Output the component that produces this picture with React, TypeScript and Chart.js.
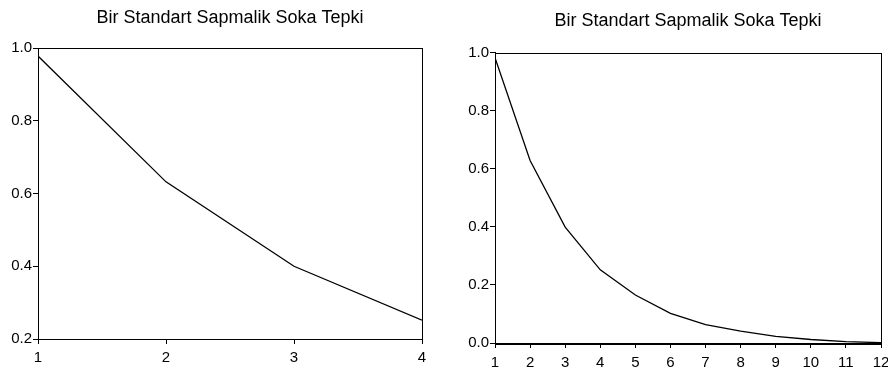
import React, { useEffect, useRef } from "react";
import { Chart, registerables } from "chart.js";

Chart.register(...registerables);

const TITLE = "Bir Standart Sapmalik Soka Tepki";

const leftPeriods = [1, 2, 3, 4];
const leftResponse = [0.978, 0.632, 0.4, 0.252];
const leftYTicks = [0.2, 0.4, 0.6, 0.8, 1.0];

const rightPeriods = [1, 2, 3, 4, 5, 6, 7, 8, 9, 10, 11, 12];
const rightResponse = [0.982, 0.628, 0.399, 0.252, 0.165, 0.102, 0.063, 0.041, 0.023, 0.012, 0.005, 0.001];
const rightYTicks = [0.0, 0.2, 0.4, 0.6, 0.8, 1.0];

const FONT = "'Liberation Sans', Arial, Helvetica, sans-serif";

const framePlugin = {
  id: "frame",
  afterDraw(chart: any) {
    const { ctx, chartArea } = chart;
    const { left, top, right, bottom } = chartArea;
    ctx.save();
    ctx.strokeStyle = "#000";
    ctx.lineWidth = 1;
    ctx.strokeRect(Math.round(left) + 0.5, Math.round(top) + 0.5, Math.round(right - left), Math.round(bottom - top));
    ctx.restore();
  },
};

type Geo = {
  yWidth: number;
  xHeight: number;
  padRight: number;
  titleTop: number;
  titleBottom: number;
  xPad: number;
};

function makeConfig(periods: number[], values: number[], yMin: number, yMax: number, yTicks: number[], geo: Geo): any {
  return {
    type: "line",
    data: {
      datasets: [
        {
          data: periods.map((p, i) => ({ x: p, y: values[i] })),
          borderColor: "#000",
          borderWidth: 1.3,
          pointRadius: 0,
          tension: 0,
          fill: false,
        },
      ],
    },
    options: {
      responsive: false,
      animation: false,
      layout: { padding: { top: 0, right: geo.padRight, bottom: 0, left: 0 } },
      plugins: {
        legend: { display: false },
        tooltip: { enabled: false },
        title: {
          display: true,
          text: TITLE,
          fullSize: false,
          color: "#000",
          font: { family: FONT, size: 18, weight: "normal", lineHeight: 1.2 },
          padding: { top: geo.titleTop, bottom: geo.titleBottom },
        },
      },
      scales: {
        x: {
          type: "linear",
          min: periods[0],
          max: periods[periods.length - 1],
          afterBuildTicks: (s: any) => {
            s.ticks = periods.map((v) => ({ value: v }));
          },
          afterFit: (s: any) => {
            s.height = geo.xHeight;
            s.paddingLeft = 0;
            s.paddingRight = 0;
          },
          grid: { display: true, drawOnChartArea: false, drawTicks: true, tickLength: 5, color: "#000" },
          border: { display: true, color: "#000", width: 1 },
          ticks: {
            color: "#000",
            autoSkip: false,
            maxRotation: 0,
            padding: geo.xPad,
            font: { family: FONT, size: 15 },
            callback: (v: any) => String(v),
          },
        },
        y: {
          type: "linear",
          min: yMin,
          max: yMax,
          afterBuildTicks: (s: any) => {
            s.ticks = yTicks.map((v) => ({ value: v }));
          },
          afterFit: (s: any) => {
            s.width = geo.yWidth;
          },
          grid: { display: true, drawOnChartArea: false, drawTicks: true, tickLength: 5, color: "#000" },
          border: { display: true, color: "#000", width: 1 },
          ticks: {
            color: "#000",
            autoSkip: false,
            padding: 1,
            font: { family: FONT, size: 15 },
            callback: (v: any) => Number(v).toFixed(1),
          },
        },
      },
    },
    plugins: [framePlugin],
  };
}

function ChartCanvas({ config, left }: { config: any; left: number }) {
  const ref = useRef<HTMLCanvasElement | null>(null);
  useEffect(() => {
    if (!ref.current) return;
    const chart = new Chart(ref.current, config);
    return () => chart.destroy();
  }, [config]);
  return (
    <canvas
      ref={ref}
      width={444}
      height={373}
      style={{ position: "absolute", left, top: 0, width: 444, height: 373 }}
    />
  );
}

const leftConfig = makeConfig(leftPeriods, leftResponse, 0.2, 1.0, leftYTicks, {
  yWidth: 38,
  xHeight: 34,
  padRight: 22,
  titleTop: 7.2,
  titleBottom: 19.2,
  xPad: 5,
});

const rightConfig = makeConfig(rightPeriods, rightResponse, 0.0, 1.0, rightYTicks, {
  yWidth: 51,
  xHeight: 30,
  padRight: 7,
  titleTop: 10.2,
  titleBottom: 20.7,
  xPad: 6,
});

export default function App() {
  return (
    <div style={{ position: "fixed", left: 0, top: 0, width: 888, height: 373, background: "#fff" }}>
      <ChartCanvas config={leftConfig} left={0} />
      <ChartCanvas config={rightConfig} left={444} />
    </div>
  );
}
